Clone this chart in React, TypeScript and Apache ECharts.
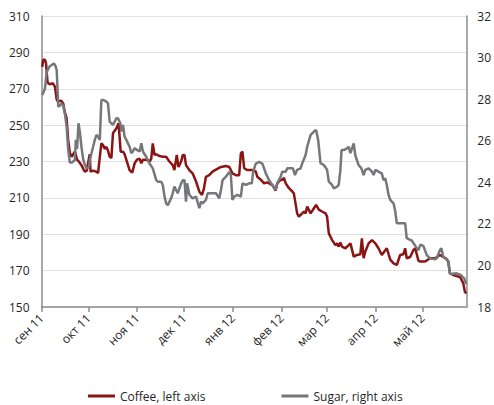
import React, { useEffect, useRef } from "react";
import * as echarts from "echarts";

// x = days since 1 Sep 2011
const monthStartDays = [0, 30, 61, 91, 122, 153, 182, 213, 243];
const monthLabels = ["сен 11", "окт 11", "ноя 11", "дек 11", "янв 12", "фев 12", "мар 12", "апр 12", "май 12"];

const coffeeDays = [0.5, 1.1, 2.2, 2.9, 3.8, 4.3, 5.4, 7.3, 8.6, 9.7, 10.5, 12.4, 13.8, 14.9, 16.0, 17.0, 18.1, 19.2, 20.2, 21.3, 22.7, 23.8, 25.5, 26.6, 27.6, 28.9, 29.7, 30.8, 31.3, 32.9, 35.1, 36.1, 37.2, 38.2, 39.3, 40.3, 41.4, 42.4, 43.5, 44.6, 45.6, 47.8, 49.2, 50.5, 52.0, 53.0, 54.1, 56.2, 57.9, 59.4, 60.9, 62.6, 63.7, 64.7, 66.8, 68.9, 70.0, 71.0, 72.1, 73.2, 75.3, 77.4, 79.5, 81.6, 83.7, 84.8, 86.3, 87.4, 89.1, 90.1, 91.2, 92.2, 94.3, 96.4, 98.6, 100.7, 102.4, 103.6, 104.9, 107.0, 109.1, 111.3, 114.5, 117.7, 119.8, 121.8, 124.0, 126.1, 127.2, 128.2, 129.3, 131.4, 134.6, 136.7, 137.7, 139.9, 142.0, 144.1, 147.3, 149.4, 150.4, 152.6, 153.6, 154.7, 155.8, 157.9, 160.0, 161.0, 163.1, 164.2, 166.3, 167.4, 168.5, 169.5, 171.7, 173.8, 175.2, 176.9, 179.0, 181.2, 182.2, 183.3, 185.4, 187.5, 188.6, 189.6, 190.7, 191.7, 193.9, 196.0, 197.1, 199.2, 201.3, 203.4, 204.4, 205.5, 206.6, 208.7, 210.8, 213.0, 215.0, 217.1, 220.3, 222.5, 224.6, 226.7, 228.8, 230.9, 232.0, 233.0, 235.2, 237.3, 238.4, 240.5, 241.5, 244.7, 247.9, 251.1, 254.2, 256.3, 258.4, 259.5, 260.6, 262.7, 265.9, 267.0, 268.0, 269.1, 270.1, 271.0];
const coffeeValues = [282, 286, 286, 284, 274, 273, 272.5, 273, 271, 264, 263, 263.5, 262, 257, 254, 242, 234.7, 232.6, 234, 235.4, 231, 230, 228, 226, 224.4, 225, 229, 234, 224.4, 225, 224.4, 223.6, 232.6, 240, 239, 237, 238, 236, 232.6, 232, 245.5, 248.3, 251, 235.4, 235.4, 234, 231, 225.3, 223.9, 229, 231, 231.5, 229, 231, 231, 230, 231.5, 240, 233.6, 234, 233, 232.6, 232.6, 230, 228, 225.3, 233.6, 227, 230, 233.6, 233.6, 228, 225.3, 223.5, 219, 213.4, 211.6, 215, 221.6, 222.5, 224.4, 225.5, 227, 227.5, 227, 223.5, 222.5, 222.5, 234.5, 235.4, 226.3, 225.3, 225.3, 224.5, 221.6, 220, 218, 218.5, 217, 214, 218, 220, 219.8, 221, 218, 215.3, 213.5, 212.5, 201.5, 199.7, 201.5, 202.4, 201.5, 205.2, 201.5, 204.3, 206.1, 203.5, 202.5, 201.5, 199.7, 190.5, 186.8, 184, 185, 183.2, 185.5, 183.2, 182.3, 184, 185, 177.7, 178.6, 179, 187.8, 176.8, 180.5, 185, 186.8, 185, 182.3, 178.6, 182.3, 176, 174, 173.1, 178.6, 179, 182.3, 176.8, 177.5, 181.3, 182.3, 175.5, 175, 175, 176.8, 176.8, 178.6, 177.5, 176.5, 175, 168.5, 167.6, 166.7, 166.7, 164.9, 163, 158.4, 157.5];

const sugarDays = [0.5, 2.2, 3.3, 5.0, 6.5, 7.9, 8.9, 9.7, 10.7, 11.8, 12.8, 13.8, 14.9, 16.0, 17.0, 18.1, 19.4, 21.3, 21.9, 22.7, 23.6, 24.5, 25.5, 26.6, 27.6, 28.7, 30.4, 30.8, 31.9, 32.9, 34.0, 35.1, 36.1, 37.2, 38.2, 39.3, 41.4, 42.4, 43.5, 45.6, 47.8, 48.8, 50.3, 51.0, 52.0, 53.0, 54.1, 56.2, 57.3, 58.3, 59.4, 60.9, 62.6, 63.7, 64.7, 66.8, 68.9, 71.0, 73.2, 74.2, 76.4, 77.4, 78.5, 79.5, 80.6, 82.7, 83.7, 84.8, 85.9, 86.9, 89.1, 90.1, 91.2, 92.2, 92.9, 94.3, 96.4, 98.6, 100.7, 101.8, 102.8, 104.9, 106.0, 107.0, 111.3, 113.4, 114.5, 115.5, 117.7, 119.8, 120.8, 121.8, 122.9, 125.0, 127.2, 128.2, 130.4, 132.5, 134.2, 135.0, 136.7, 138.8, 140.9, 142.0, 143.1, 145.2, 147.3, 149.4, 150.4, 152.6, 153.6, 155.8, 156.8, 159.0, 160.4, 161.7, 163.1, 165.3, 166.3, 168.5, 169.5, 171.7, 173.8, 175.2, 176.5, 178.0, 180.1, 182.2, 183.3, 185.4, 186.5, 188.6, 189.6, 190.7, 191.4, 192.8, 194.9, 196.0, 197.1, 198.1, 199.2, 200.2, 202.3, 204.1, 205.5, 206.6, 208.7, 210.8, 211.9, 213.0, 215.0, 217.1, 218.2, 219.3, 220.3, 221.4, 222.5, 223.5, 224.6, 225.7, 226.7, 228.8, 232.0, 233.0, 235.2, 236.2, 238.4, 239.4, 240.5, 241.7, 243.6, 245.8, 247.9, 251.1, 252.1, 254.2, 255.1, 256.3, 258.4, 259.5, 260.6, 262.7, 264.8, 267.0, 268.0, 269.7, 271.0];
const sugarValues = [28.2, 28.5, 29.3, 29.56, 29.64, 29.72, 29.6, 29.4, 27.64, 27.7, 27.8, 27.7, 27.32, 26.7, 25.6, 24.95, 24.95, 25.07, 26.04, 25.6, 26.84, 26.4, 25.7, 25.1, 24.85, 24.67, 24.75, 25.07, 25.4, 25.7, 26.04, 26.28, 26.2, 26.04, 27.96, 27.96, 27.88, 27.8, 26.92, 26.76, 27.08, 27.08, 26.84, 26.44, 26.76, 26.2, 26.04, 25.71, 25.4, 25.48, 25.64, 25.56, 25.48, 25.88, 25.48, 25.23, 24.9, 24.67, 24.1, 24.03, 24.03, 23.87, 23.31, 22.99, 22.9, 23.23, 23.47, 23.79, 23.63, 23.47, 23.95, 24.1, 24.1, 23.07, 23.95, 23.4, 23.23, 23.31, 22.75, 23.07, 22.99, 23.15, 23.47, 23.47, 23.47, 23.23, 23.63, 24.1, 24.27, 24.5, 24.35, 23.15, 23.31, 23.39, 23.31, 23.95, 23.87, 23.95, 23.95, 24.5, 24.9, 24.98, 24.9, 24.67, 24.43, 24.1, 23.87, 23.63, 23.95, 24.27, 24.51, 24.51, 24.67, 24.67, 24.67, 24.35, 24.6, 24.67, 24.9, 25.31, 25.71, 26.28, 26.44, 26.52, 26.04, 24.92, 24.83, 24.6, 24.03, 23.87, 23.71, 23.79, 23.87, 24.6, 25.55, 25.55, 25.63, 25.71, 25.4, 25.63, 25.87, 25.3, 24.83, 24.67, 24.35, 24.6, 24.67, 24.51, 24.35, 24.6, 24.51, 24.43, 24.1, 24.19, 23.87, 23.4, 23.15, 23.07, 22.99, 22.59, 22.03, 22.03, 22.03, 21.31, 21.23, 21.2, 20.95, 20.83, 20.74, 21.0, 20.94, 20.5, 20.34, 20.3, 20.34, 20.74, 20.83, 20.42, 20.3, 20.18, 19.6, 19.6, 19.62, 19.56, 19.5, 19.38, 19.1];

const leftTicks = { min: 150, max: 310, interval: 20 };
const rightTicks = { min: 18, max: 32, interval: 2 };

const FONT = "'Open Sans', sans-serif";
const TEXT = "#262626";
const AXIS = "#8c8c8c";
const COFFEE_COLOR = "#8b1414";
const SUGAR_COLOR = "#76777a";

export default function App() {
  const ref = useRef<HTMLDivElement>(null);
  useEffect(() => {
    if (!ref.current) return;
    const chart = echarts.init(ref.current, null, { renderer: "svg" });
    const coffee = coffeeDays.map((d, i) => [d, coffeeValues[i]]);
    const sugar = sugarDays.map((d, i) => [d, sugarValues[i]]);
    chart.setOption({
      animation: false,
      textStyle: { fontFamily: FONT },
      grid: { left: 41.5, right: 26, top: 16, bottom: 98, containLabel: false },
      legend: {
        left: 88,
        top: 389,
        padding: 0,
        icon: "rect",
        itemWidth: 27,
        itemHeight: 3,
        itemGap: 76,
        textStyle: { fontFamily: FONT, fontSize: 12, color: TEXT, lineHeight: 14 },
        data: ["Coffee, left axis", "Sugar, right axis"],
      },
      xAxis: {
        type: "value",
        min: 0,
        max: 271,
        splitLine: { show: false },
        axisLine: { show: true, lineStyle: { color: AXIS, width: 1.5 } },
        axisTick: {
          show: true,
          length: 5,
          lineStyle: { color: AXIS, width: 1.5 },
          customValues: monthStartDays,
        },
        axisLabel: {
          rotate: 45,
          margin: 9,
          fontSize: 12,
          color: TEXT,
          fontFamily: FONT,
          customValues: monthStartDays,
          formatter: (v: number) => {
            const idx = monthStartDays.indexOf(Math.round(v));
            return idx >= 0 ? monthLabels[idx] : "";
          },
        },
      },
      yAxis: [
        {
          type: "value",
          position: "left",
          min: leftTicks.min,
          max: leftTicks.max,
          interval: leftTicks.interval,
          axisLine: { show: true, lineStyle: { color: AXIS, width: 1.5 } },
          axisTick: { show: false },
          axisLabel: { margin: 12, fontSize: 12, color: TEXT, fontFamily: FONT },
          splitLine: { show: true, lineStyle: { color: "#e0e0e0", width: 1 } },
        },
        {
          type: "value",
          position: "right",
          min: rightTicks.min,
          max: rightTicks.max,
          interval: rightTicks.interval,
          axisLine: { show: true, lineStyle: { color: AXIS, width: 1.5 } },
          axisTick: { show: false },
          axisLabel: { margin: 11, fontSize: 12, color: TEXT, fontFamily: FONT },
          splitLine: { show: false },
        },
      ],
      series: [
        {
          name: "Coffee, left axis",
          type: "line",
          yAxisIndex: 0,
          data: coffee,
          symbol: "none",
          showSymbol: false,
          lineStyle: { color: COFFEE_COLOR, width: 2.5 },
          itemStyle: { color: COFFEE_COLOR },
          z: 2,
        },
        {
          name: "Sugar, right axis",
          type: "line",
          yAxisIndex: 1,
          data: sugar,
          symbol: "none",
          showSymbol: false,
          lineStyle: { color: SUGAR_COLOR, width: 2.5 },
          itemStyle: { color: SUGAR_COLOR },
          z: 3,
        },
      ],
    });
    return () => chart.dispose();
  }, []);
  return (
    <div
      ref={ref}
      style={{ position: "fixed", left: 0, top: 0, width: 494, height: 405, background: "#fff" }}
    />
  );
}
